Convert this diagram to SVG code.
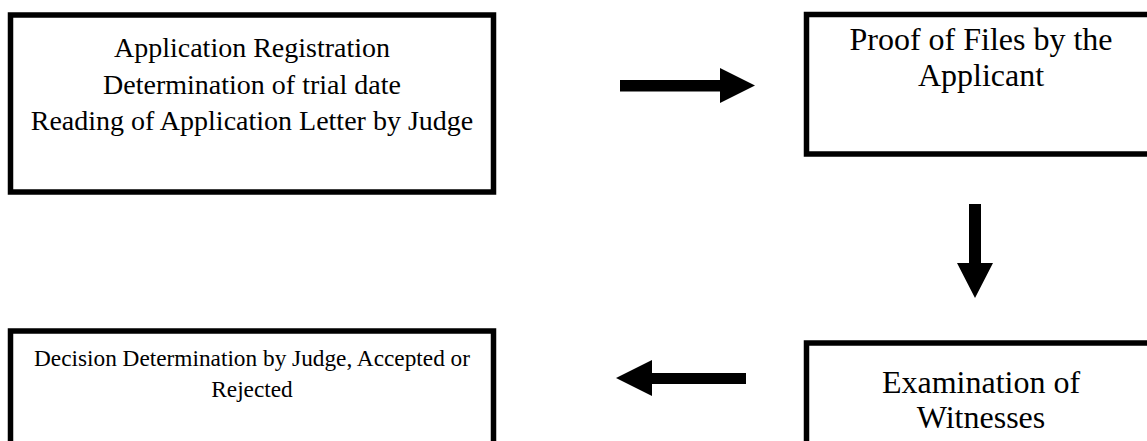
<svg xmlns="http://www.w3.org/2000/svg" width="1147" height="441" viewBox="0 0 1147 441">
<style>
.box{fill:#fff;stroke:#000;stroke-width:5.5}
.t{font-family:"Liberation Serif","Times New Roman",serif;fill:#000;text-anchor:middle}
.arr{fill:#000}
</style>
<rect width="1147" height="441" fill="#fff"/>
<g id="node-registration">
<rect class="box" x="10.5" y="15" width="483" height="177"/>
<text class="t" font-size="28" x="252" y="57">Application Registration</text>
<text class="t" font-size="28" x="252" y="93.5">Determination of trial date</text>
<text class="t" font-size="28" x="252" y="130">Reading of Application Letter by Judge</text>
</g>
<g id="node-proof">
<rect class="box" x="806.5" y="14.5" width="360" height="139.5"/>
<text class="t" font-size="32" x="981" y="50">Proof of Files by the</text>
<text class="t" font-size="32" x="981" y="86">Applicant</text>
</g>
<g id="node-witnesses">
<rect class="box" x="806.5" y="343" width="360" height="120"/>
<text class="t" font-size="32" x="981" y="393">Examination of</text>
<text class="t" font-size="32" x="981" y="428">Witnesses</text>
</g>
<g id="node-decision">
<rect class="box" x="10.5" y="331" width="483" height="130"/>
<text class="t" font-size="23.3" x="252" y="366">Decision Determination by Judge, Accepted or</text>
<text class="t" font-size="23.3" x="252" y="397">Rejected</text>
</g>
<g id="connectors">
<polygon class="arr" points="620,80 720,80 720,68 755,85.5 720,103 720,91.5 620,91.5"/>
<polygon class="arr" points="969,204 981,204 981,263 993,263 975,298 957,263 969,263"/>
<polygon class="arr" points="746,373 652,373 652,360 616,378 652,396 652,384 746,384"/>
</g>
</svg>
